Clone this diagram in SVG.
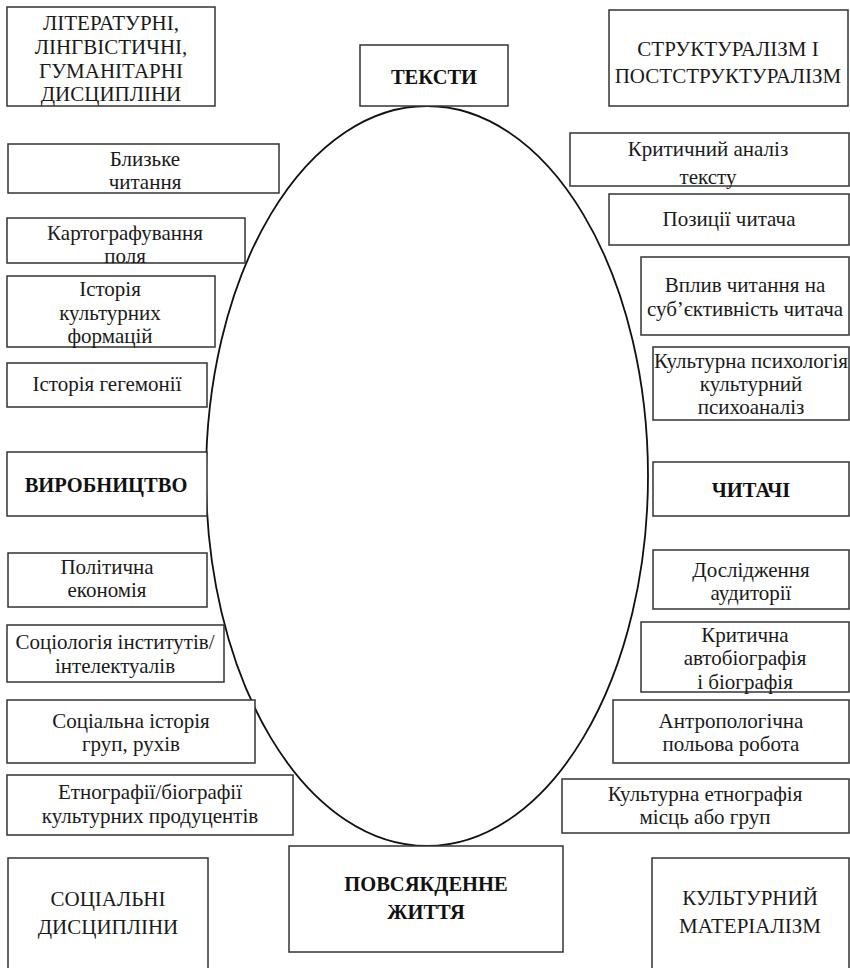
<svg xmlns="http://www.w3.org/2000/svg" width="850" height="968" viewBox="0 0 850 968">
<style>
.b{fill:#fff;stroke:#333;stroke-width:1.5}
text{font-family:"Liberation Serif","Times New Roman","DejaVu Serif",serif;font-size:21px;fill:#1a1a1a;text-anchor:middle}
.cap{font-size:21px}
.bold{font-weight:bold;font-size:20.5px;fill:#111}
</style>
<rect width="850" height="968" fill="#fff"/>
<g id="connectors">
<ellipse cx="427" cy="476" rx="221" ry="370" fill="none" stroke="#111" stroke-width="1.8"/>
</g>
<g id="n-lit"><rect class="b" x="7" y="7" width="208" height="99"/>
<text class="cap" x="111" y="30">ЛІТЕРАТУРНІ,</text><text class="cap" x="111" y="54">ЛІНГВІСТИЧНІ,</text><text class="cap" x="111" y="78">ГУМАНІТАРНІ</text><text class="cap" x="111" y="101">ДИСЦИПЛІНИ</text></g>
<g id="n-texts"><rect class="b" x="360" y="45" width="148" height="61"/><text class="bold" x="434" y="84">ТЕКСТИ</text></g>
<g id="n-struct"><rect class="b" x="609" y="10" width="239" height="96"/>
<text class="cap" x="728" y="56">СТРУКТУРАЛІЗМ І</text><text class="cap" x="728" y="83">ПОСТСТРУКТУРАЛІЗМ</text></g>
<g id="n-close"><rect class="b" x="8" y="144" width="271" height="49"/><text x="145" y="166">Близьке</text><text x="145" y="189">читання</text></g>
<g id="n-map"><rect class="b" x="7" y="218" width="238" height="45"/><text x="125" y="240">Картографування</text><text x="125" y="263">поля</text></g>
<g id="n-hist"><rect class="b" x="7" y="276" width="208" height="71"/><text x="110" y="296">Історія</text><text x="110" y="320">культурних</text><text x="110" y="343">формацій</text></g>
<g id="n-heg"><rect class="b" x="7" y="363" width="200" height="44"/><text x="107" y="391">Історія гегемонії</text></g>
<g id="n-prod"><rect class="b" x="7" y="452" width="200" height="64"/><text class="bold" x="106" y="492">ВИРОБНИЦТВО</text></g>
<g id="n-pol"><rect class="b" x="8" y="553" width="199" height="54"/><text x="107" y="574">Політична</text><text x="107" y="597">економія</text></g>
<g id="n-soc"><rect class="b" x="7" y="625" width="217" height="57"/><text x="115" y="649">Соціологія інститутів/</text><text x="115" y="673">інтелектуалів</text></g>
<g id="n-sochist"><rect class="b" x="7" y="700" width="248" height="63"/><text x="131" y="728">Соціальна історія</text><text x="131" y="751">груп, рухів</text></g>
<g id="n-ethno"><rect class="b" x="7" y="775" width="286" height="60"/><text x="150" y="799">Етнографії/біографії</text><text x="150" y="823">культурних продуцентів</text></g>
<g id="n-crit"><rect class="b" x="570" y="133" width="279" height="53"/><text x="708" y="156">Критичний аналіз</text><text x="708" y="184">тексту</text></g>
<g id="n-pos"><rect class="b" x="609" y="194" width="240" height="51"/><text x="729" y="226">Позиції читача</text></g>
<g id="n-infl"><rect class="b" x="641" y="257" width="208" height="78"/><text x="745" y="292">Вплив читання на</text><text x="745" y="316">суб’єктивність читача</text></g>
<g id="n-psy"><rect class="b" x="653" y="347" width="196" height="73"/><text x="751" y="368">Культурна психологія</text><text x="751" y="391">культурний</text><text x="751" y="414">психоаналіз</text></g>
<g id="n-readers"><rect class="b" x="653" y="462" width="196" height="54"/><text class="bold" x="751" y="497">ЧИТАЧІ</text></g>
<g id="n-aud"><rect class="b" x="653" y="550" width="196" height="59"/><text x="751" y="577">Дослідження</text><text x="751" y="600">аудиторії</text></g>
<g id="n-auto"><rect class="b" x="641" y="622" width="208" height="70"/><text x="745" y="642">Критична</text><text x="745" y="665">автобіографія</text><text x="745" y="689">і біографія</text></g>
<g id="n-anth"><rect class="b" x="613" y="700" width="236" height="63"/><text x="731" y="728">Антропологічна</text><text x="731" y="751">польова робота</text></g>
<g id="n-cultethno"><rect class="b" x="562" y="779" width="287" height="54"/><text x="705" y="801">Культурна етнографія</text><text x="705" y="824">місць або груп</text></g>
<g id="n-socdisc"><rect class="b" x="8" y="858" width="200" height="115"/><text class="cap" x="108" y="906">СОЦІАЛЬНІ</text><text class="cap" x="108" y="934">ДИСЦИПЛІНИ</text></g>
<g id="n-daily"><rect class="b" x="289" y="846" width="274" height="106"/><text class="bold" x="426" y="891">ПОВСЯКДЕННЕ</text><text class="bold" x="426" y="919">ЖИТТЯ</text></g>
<g id="n-mat"><rect class="b" x="652" y="858" width="197" height="115"/><text class="cap" x="750" y="905">КУЛЬТУРНИЙ</text><text class="cap" x="750" y="933">МАТЕРІАЛІЗМ</text></g>
</svg>
